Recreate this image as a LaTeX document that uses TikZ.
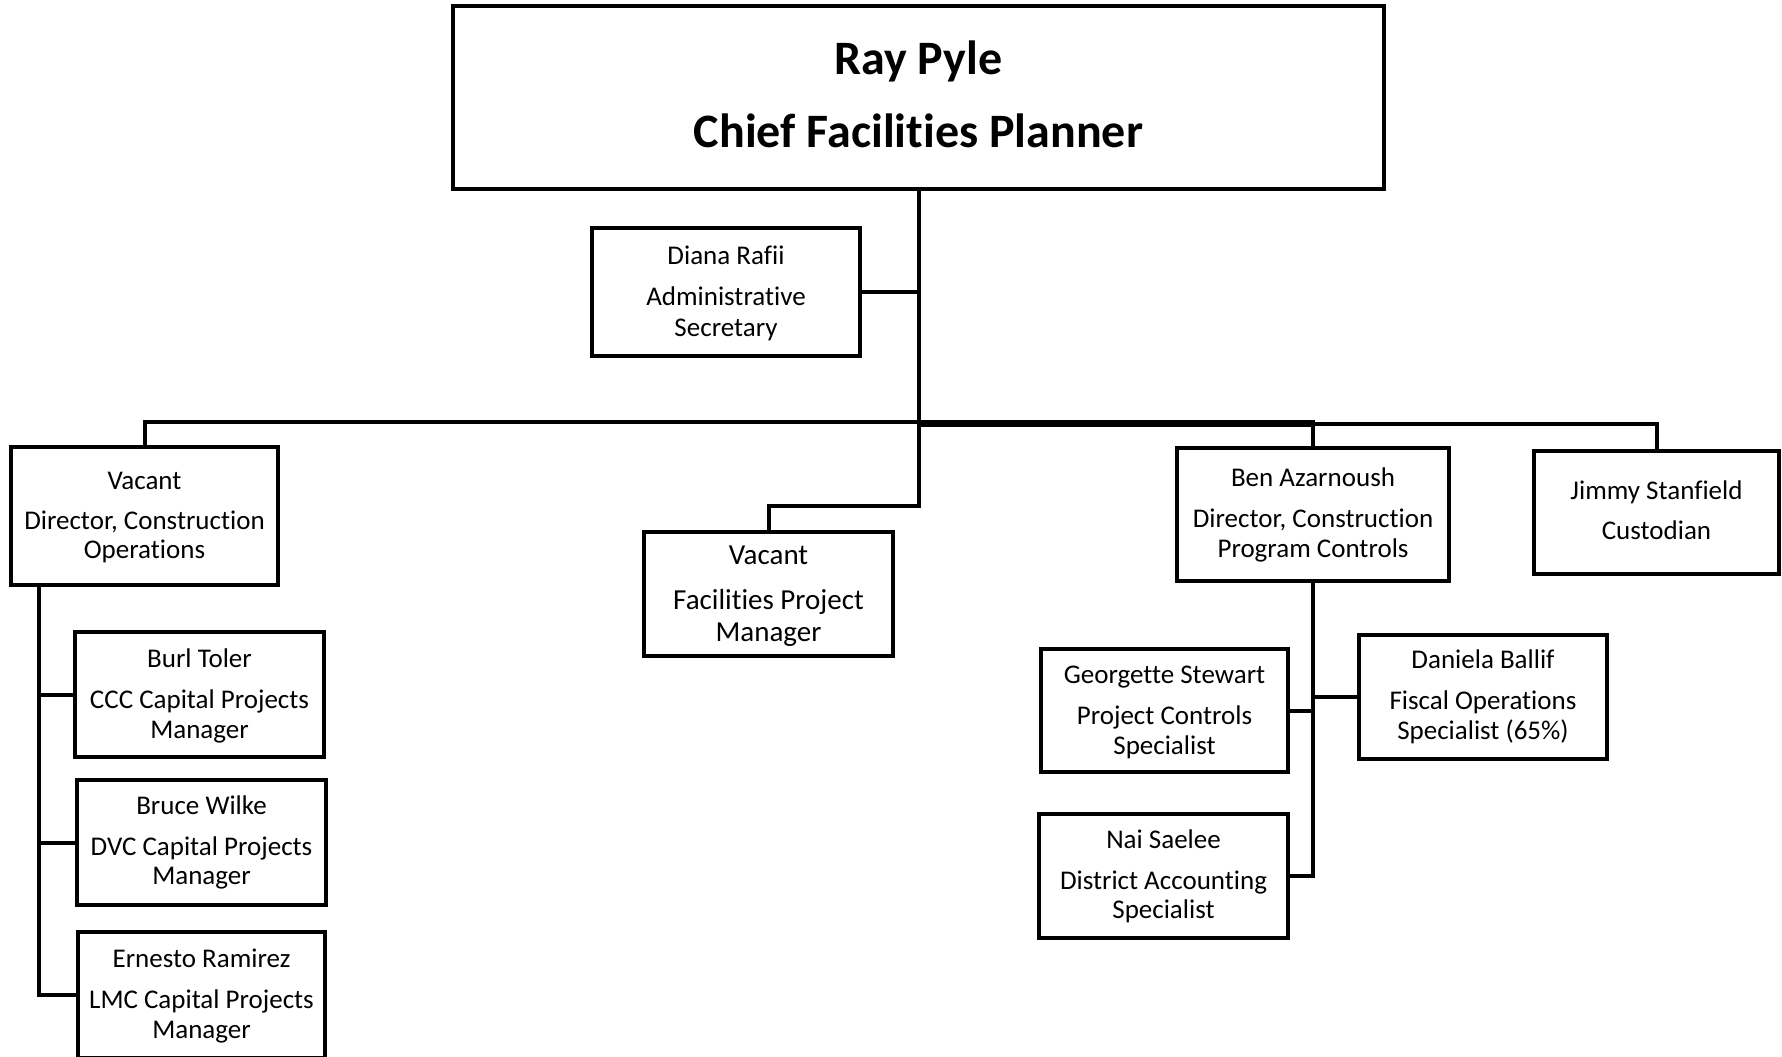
\documentclass[tikz,border=0pt]{standalone}
\usepackage{fontspec}
\setmainfont{Carlito}[Ligatures={NoCommon}]
\begin{document}
\begin{tikzpicture}[x=1bp,y=-1bp,
  box/.style={draw=black, line width=4bp, inner sep=0pt, outer sep=0pt, rectangle},
  conn/.style={draw=black, line width=4bp},
  lbl/.style={anchor=base, inner sep=0pt, outer sep=0pt, font=\fontsize{27bp}{32bp}\selectfont},
  lblb/.style={anchor=base, inner sep=0pt, outer sep=0pt, font=\fontsize{29bp}{34bp}\selectfont},
  ttl/.style={anchor=base, inner sep=0pt, outer sep=0pt, font=\fontsize{48bp}{56bp}\selectfont\bfseries}]
\useasboundingbox (0,0) rectangle (1782,1056);

% boxes
\node[box, minimum width=931bp, minimum height=183bp] (top) at (918.5,97.5) {};
\node[box, minimum width=268bp, minimum height=128bp] (diana) at (726,292) {};
\node[box, minimum width=267bp, minimum height=138bp] (ldir) at (144.5,516) {};
\node[box, minimum width=249bp, minimum height=124bp] (fpm) at (768.5,594) {};
\node[box, minimum width=272bp, minimum height=133bp] (ben) at (1313,514.5) {};
\node[box, minimum width=245bp, minimum height=123bp] (jimmy) at (1656.5,512.5) {};
\node[box, minimum width=249bp, minimum height=125bp] (burl) at (199.5,694.5) {};
\node[box, minimum width=249bp, minimum height=125bp] (bruce) at (201.5,842.5) {};
\node[box, minimum width=247bp, minimum height=126bp] (ernesto) at (201.5,995) {};
\node[box, minimum width=247bp, minimum height=123bp] (georgette) at (1164.5,710.5) {};
\node[box, minimum width=248bp, minimum height=124bp] (daniela) at (1483,697) {};
\node[box, minimum width=249bp, minimum height=124bp] (nai) at (1163.5,876) {};

% texts
\node[ttl] (t1) at (918.5,74.5) {Ray Pyle};
\node[ttl] (t2) at (918.5,147.5) {Chief Facilities Planner};

\node[lbl] (d1) at (726,264) {Diana Rafii};
\node[lbl] (d2) at (726,305) {Administrative};
\node[lbl] (d3) at (726,336) {Secretary};

\node[lbl] (l1) at (144.5,489) {Vacant};
\node[lbl] (l2) at (144.5,529) {Director, Construction};
\node[lbl] (l3) at (144.5,558) {Operations};

\node[lblb] (f1) at (768.5,564) {Vacant};
\node[lblb] (f2) at (768.5,609) {Facilities Project};
\node[lblb] (f3) at (768.5,641) {Manager};

\node[lbl] (b1) at (1313,486) {Ben Azarnoush};
\node[lbl] (b2) at (1313,527) {Director, Construction};
\node[lbl] (b3) at (1313,557) {Program Controls};

\node[lbl] (j1) at (1656.5,499) {Jimmy Stanfield};
\node[lbl] (j2) at (1656.5,539) {Custodian};

\node[lbl] (u1) at (199.5,667) {Burl Toler};
\node[lbl] (u2) at (199.5,708) {CCC Capital Projects};
\node[lbl] (u3) at (199.5,738) {Manager};

\node[lbl] (w1) at (201.5,814) {Bruce Wilke};
\node[lbl] (w2) at (201.5,855) {DVC Capital Projects};
\node[lbl] (w3) at (201.5,884) {Manager};

\node[lbl] (e1) at (201.5,967) {Ernesto Ramirez};
\node[lbl] (e2) at (201.5,1008) {LMC Capital Projects};
\node[lbl] (e3) at (201.5,1038) {Manager};

\node[lbl] (g1) at (1164.5,683) {Georgette Stewart};
\node[lbl] (g2) at (1164.5,724) {Project Controls};
\node[lbl] (g3) at (1164.5,754) {Specialist};

\node[lbl] (a1) at (1483,668) {Daniela Ballif};
\node[lbl] (a2) at (1483,709) {Fiscal Operations};
\node[lbl] (a3) at (1483,739) {Specialist (65\%)};

\node[lbl] (n1) at (1163.5,848) {Nai Saelee};
\node[lbl] (n2) at (1163.5,889) {District Accounting};
\node[lbl] (n3) at (1163.5,918) {Specialist};

% connector points
\coordinate (bus) at (918.5,422);
\coordinate (busb) at (918.5,423.5);
\coordinate (fpmturn) at (918.5,506);
\coordinate (lt) at (39,585);

% connectors
\draw[conn] (top.south) -- (fpmturn) -| (fpm.north);
\draw[conn] (diana.east) -- (diana.east -| top.south);
\draw[conn] (ldir.north) |- (bus) -| (ben.north);
\draw[conn, line width=6bp] (busb) -- (busb -| ben.north);
\draw[conn] (busb) -| (jimmy.north);
\draw[conn] (lt) |- (ernesto.west);
\draw[conn] (lt |- burl.west) -- (burl.west);
\draw[conn] (lt |- bruce.west) -- (bruce.west);
\draw[conn] (ben.south) |- (nai.east);
\draw[conn] (georgette.east) -- (georgette.east -| ben.south);
\draw[conn] (daniela.west) -- (daniela.west -| ben.south);
\end{tikzpicture}
\end{document}
